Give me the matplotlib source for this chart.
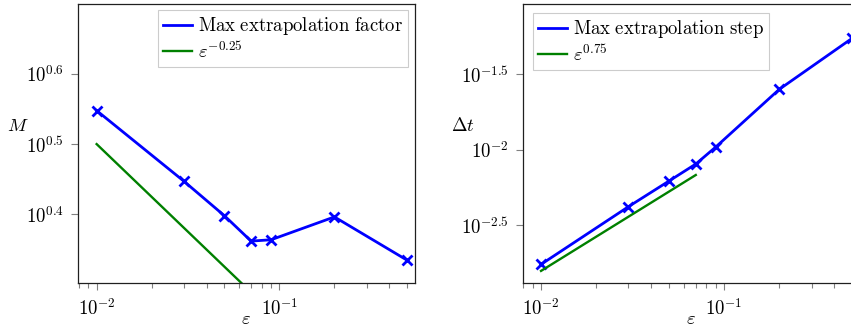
import numpy as np
import matplotlib
matplotlib.use("Agg")
import matplotlib.pyplot as plt
from matplotlib.lines import Line2D
from matplotlib.ticker import FixedLocator, FixedFormatter, LogLocator, NullLocator, NullFormatter

plt.rcParams["mathtext.fontset"] = "cm"
plt.rcParams["font.family"] = ["DejaVu Serif"]

# Tolerance values
eps = [0.01, 0.03, 0.05, 0.07, 0.09, 0.2, 0.5]
# Maximum extrapolation factor M
max_factor = [3.53, 2.80, 2.50, 2.30, 2.31, 2.49, 2.16]
# Maximum extrapolation step Δt
max_step = [0.001746, 0.0042, 0.00621, 0.00804, 0.01042, 0.02506, 0.0545]

# Reference power laws: coefficient * eps**exponent
ref_eps = [0.01, 0.07]
factor_ref_coef, factor_ref_exp = 1.0, -0.25
step_ref_coef, step_ref_exp = 0.05, 0.75

x_ticks = [0.01, 0.1]
x_ticklabels = [r"$10^{-2}$", r"$10^{-1}$"]
factor_ytick_exps = [0.4, 0.5, 0.6]
step_ytick_exps = [-2.5, -2.0, -1.5]
factor_yticklabels = [r"$10^{0.4}$", r"$10^{0.5}$", r"$10^{0.6}$"]
step_yticklabels = [r"$10^{-2.5}$", r"$10^{-2}$", r"$10^{-1.5}$"]

FS = 13.5
BLUE = "#0000ff"
GREEN = "#008000"
LW_MAIN = 2.0
LW_REF = 1.7

W, H = 851, 331
fig = plt.figure(figsize=(W / 100, H / 100), dpi=100)


def px_axes(x0, y0, x1, y1):
    return fig.add_axes([x0 / W, 1 - y1 / H, (x1 - x0) / W, (y1 - y0) / H])


ax1 = px_axes(78, 4, 415, 283)
ax2 = px_axes(523, 4, 860, 283)


def style(ax, ytick_exps, yticklabels, ylabel):
    ax.set_xscale("log")
    ax.set_yscale("log")
    ax.xaxis.set_major_locator(FixedLocator(x_ticks))
    ax.xaxis.set_major_formatter(FixedFormatter(x_ticklabels))
    ax.xaxis.set_minor_locator(LogLocator(base=10, subs=np.arange(2, 10)))
    ax.xaxis.set_minor_formatter(NullFormatter())
    ax.yaxis.set_major_locator(FixedLocator([10 ** e for e in ytick_exps]))
    ax.yaxis.set_major_formatter(FixedFormatter(yticklabels))
    ax.yaxis.set_minor_locator(NullLocator())
    ax.tick_params(which="major", length=5, width=0.8, color="#808080",
                   labelsize=FS, direction="out")
    ax.tick_params(axis="x", which="major", pad=6)
    ax.tick_params(axis="y", which="major", pad=5)
    ax.tick_params(which="minor", length=3.5, width=0.8, color="#808080", direction="out")
    for s in ax.spines.values():
        s.set_linewidth(0.9)
        s.set_color("#202020")
    ax.set_xlabel(r"$\varepsilon$", fontsize=FS, va="center")
    ax.xaxis.set_label_coords(0.5, -0.13)
    ax.set_ylabel(ylabel, fontsize=FS, rotation=0, va="center", ha="center")
    ax.yaxis.set_label_coords(-0.178, 0.563)


def legend(ax, labels, **kw):
    handles = [Line2D([], [], color=BLUE, lw=LW_MAIN), Line2D([], [], color=GREEN, lw=LW_REF)]
    leg = ax.legend(handles, labels, fontsize=FS, frameon=True, fancybox=False,
                    framealpha=1, edgecolor="#cccccc", borderaxespad=0,
                    handlelength=1.55, handletextpad=0.3, labelspacing=0.2,
                    borderpad=0.28, **kw)
    leg.get_frame().set_linewidth(0.8)
    return leg


# Left: extrapolation factor
ax1.plot(eps, max_factor, color=BLUE, lw=LW_MAIN, marker="x", ms=7, mew=2)
ax1.plot(ref_eps, [factor_ref_coef * e ** factor_ref_exp for e in ref_eps],
         color=GREEN, lw=LW_REF)
ax1.set_xlim(10 ** -2.102, 10 ** -0.258)
ax1.set_ylim(10 ** 0.302, 10 ** 0.6997)
style(ax1, factor_ytick_exps, factor_yticklabels, r"$M$")
legend(ax1, [r"$\mathrm{Max\ extrapolation\ factor}$", r"$\varepsilon^{-0.25}$"],
       loc="upper right", bbox_to_anchor=((408 - 78) / 337, (283 - 10) / 279))

# Right: extrapolation step
ax2.plot(eps, max_step, color=BLUE, lw=LW_MAIN, marker="x", ms=7, mew=2)
ax2.plot(ref_eps, [step_ref_coef * e ** step_ref_exp for e in ref_eps],
         color=GREEN, lw=LW_REF)
ax2.set_xlim(10 ** -2.0985, 10 ** -0.258)
ax2.set_ylim(10 ** -2.881, 10 ** -1.037)
style(ax2, step_ytick_exps, step_yticklabels, r"$\Delta t$")
legend(ax2, [r"$\mathrm{Max\ extrapolation\ step}$", r"$\varepsilon^{0.75}$"],
       loc="upper left", bbox_to_anchor=((533 - 523) / 337, (283 - 13) / 279))

fig.savefig("out.png", dpi=100)
